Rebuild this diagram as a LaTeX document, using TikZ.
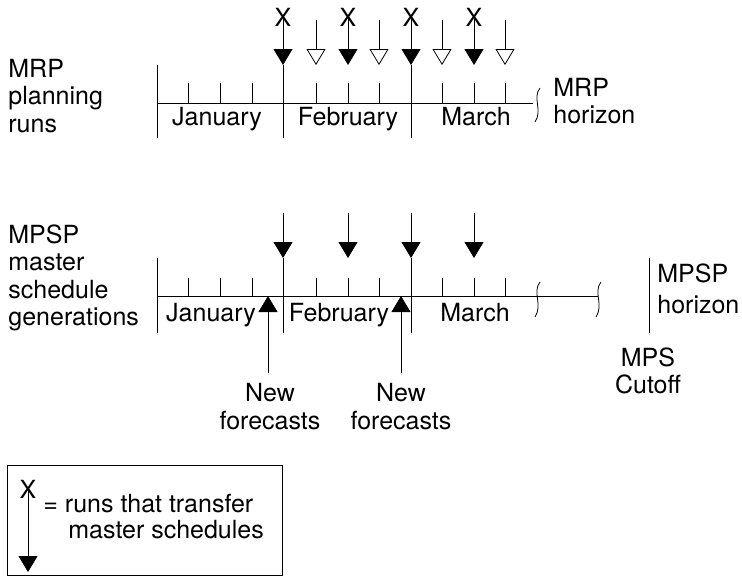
\documentclass[tikz,border=0pt]{standalone}
\usepackage{fontspec}
\setmainfont{TeX Gyre Heros}
\usetikzlibrary{arrows.meta,positioning}

\tikzset{
  lbl/.style={anchor=base west, inner sep=0pt, font=\fontsize{25}{28}\selectfont},
  clbl/.style={anchor=base, inner sep=0pt, font=\fontsize{25}{28}\selectfont},
  xmark/.style={inner sep=0pt, font=\fontsize{25}{25}\selectfont},
  run/.style={-{Triangle[length=16pt,width=19pt]}},
  norun/.style={-{Triangle[open,length=16pt,width=19pt]}},
}

\begin{document}
\begin{tikzpicture}[x=1pt,y=-1pt,line width=0.8pt]
    \useasboundingbox (0,0) rectangle (742,581);

    % MRP planning runs
    \begin{scope}
        \node[lbl] (mrp1) at (8,77) {MRP};
        \node[lbl] (mrp2) at (8,104) {planning};
        \node[lbl] (mrp3) at (8,132) {runs};
        \coordinate (ta) at (157,103);
        \coordinate (tb) at (533,103);
        \draw (ta) -- (tb);
        \draw (157,65) -- (157,138);
        \draw (283,65) -- (283,138);
        \draw (411,65) -- (411,138);
        \foreach \x in {188,220,252,316,348,379,442,474,505}
            \draw (\x,83) -- (\x,103);
        \foreach \x in {283,348,411,474} {
            \node[xmark] (tx\x) at (\x,17) {X};
            \draw[run] (tx\x.center) -- (\x,65);
        }
        \foreach \x in {316,379,442,505}
            \draw[norun] (\x,20) -- (\x,65);
        \draw (540,88) .. controls (532,98) and (543,110) .. (535,122);
        \node[clbl] (tjan) at (217,125) {January};
        \node[clbl] (tfeb) at (348,125) {February};
        \node[clbl] (tmar) at (476,125) {March};
        \node[lbl] (mrph1) at (553,96) {MRP};
        \node[lbl] (mrph2) at (553,123) {horizon};
    \end{scope}

    % MPSP master schedule generations
    \begin{scope}
        \node[lbl] (mps1) at (8,243) {MPSP};
        \node[lbl] (mps2) at (8,270) {master};
        \node[lbl] (mps3) at (8,298) {schedule};
        \node[lbl] (mps4) at (8,325) {generations};
        \coordinate (ba) at (157,296);
        \coordinate (bb) at (598,296);
        \draw (ba) -- (bb);
        \draw (157,258) -- (157,333);
        \draw (283,258) -- (283,333);
        \draw (411,258) -- (411,333);
        \foreach \x in {188,220,252,316,348,379,442,474,505}
            \draw (\x,278) -- (\x,296);
        \foreach \x in {283,348,411,474}
            \draw[run] (\x,213) -- (\x,258);
        \draw (540,282) .. controls (532,292) and (543,305) .. (535,317);
        \draw (601,282) .. controls (593,292) and (604,305) .. (596,317);
        \node[clbl] (bjan) at (211,321) {January};
        \node[clbl] (bfeb) at (339,321) {February};
        \node[clbl] (bmar) at (475,321) {March};
        % new forecasts
        \node[clbl] (nf1) at (270,401) {New};
        \node[clbl] (nf2) at (270,429) {forecasts};
        \node[clbl] (nf3) at (401,401) {New};
        \node[clbl] (nf4) at (401,429) {forecasts};
        \draw[run] (268,373) -- (268,296);
        \draw[run] (401,373) -- (401,296);
        % horizon and cutoff
        \draw (649,258) -- (649,333);
        \node[lbl] (mpsh1) at (657,282) {MPSP};
        \node[lbl] (mpsh2) at (657,313) {horizon};
        \node[clbl] (cut1) at (648,366) {MPS};
        \node[clbl] (cut2) at (648,393) {Cutoff};
    \end{scope}

    % legend
    \draw (7,465) rectangle (282,575);
    \node[xmark] (lx) at (28,489) {X};
    \draw[run] (lx.center) -- (28,572);
    \node[lbl] (leg1) at (43,512) {= runs that transfer};
    \node[lbl] (leg2) at (68,538) {master schedules};
\end{tikzpicture}
\end{document}
